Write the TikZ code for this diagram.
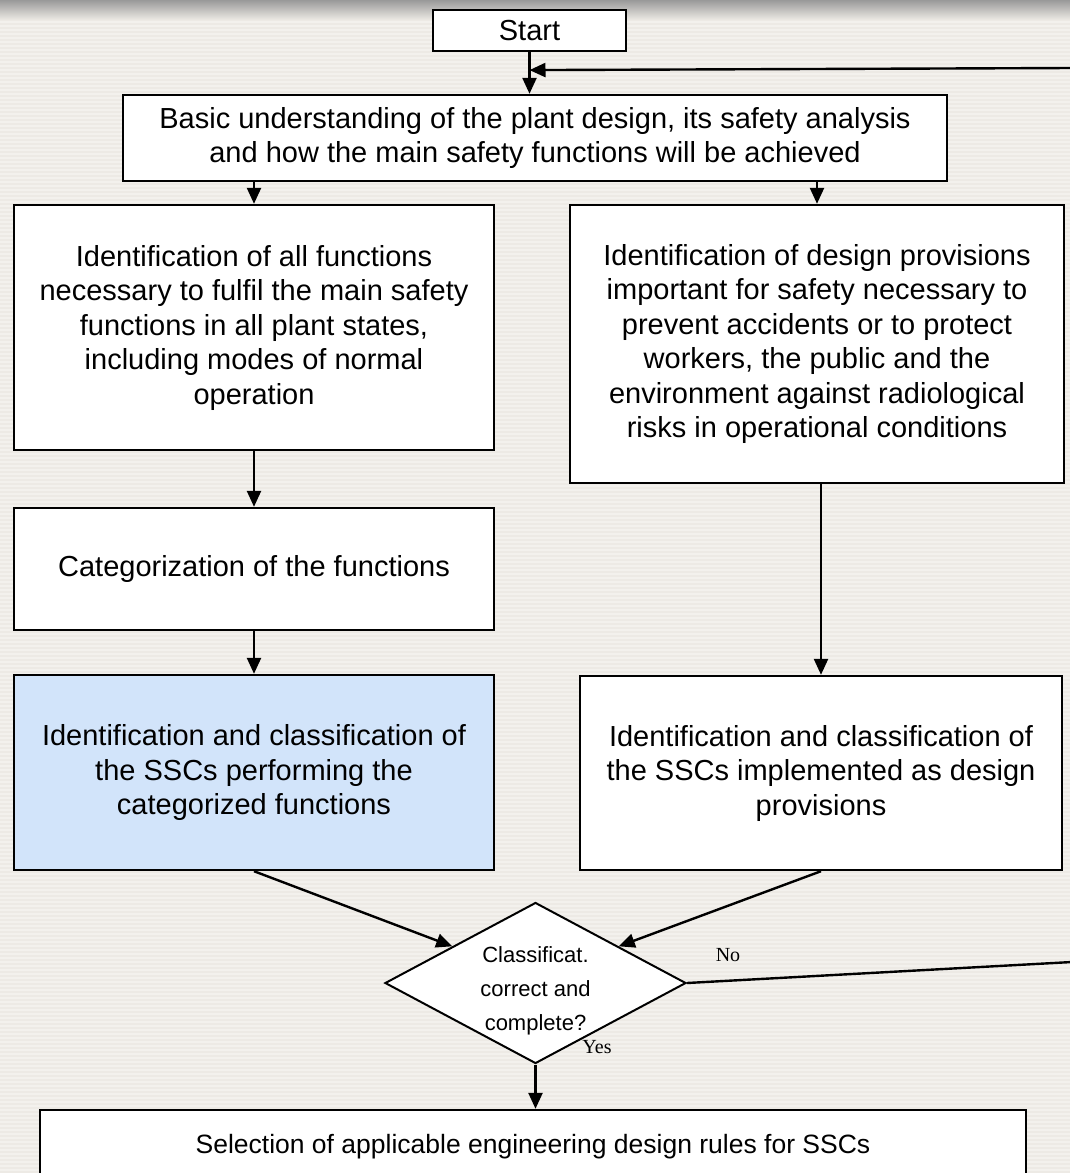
\documentclass[tikz,border=0pt]{standalone}
\usepackage{fontspec}
\setmainfont{Liberation Sans}
\newfontfamily\notefont{Liberation Serif}
\usetikzlibrary{shapes.geometric,arrows.meta,calc}
\definecolor{paper}{HTML}{EDEAE5}
\definecolor{paperline}{HTML}{F3F1ED}
\definecolor{paleblue}{HTML}{D2E4FA}

\begin{document}
\begin{tikzpicture}[x=1pt,y=-1pt,
  box/.style={draw=black, line width=2.4pt, fill=white, align=center, inner sep=0pt,
              font=\fontsize{29}{34.5}\selectfont},
  flow/.style={line width=2.4pt, -{Triangle[length=16pt,width=14pt]}},
  plain/.style={line width=2.4pt},
  decision/.style={diamond, draw=black, line width=2pt, fill=white, inner sep=0pt},
  qtext/.style={align=center, font=\fontsize{22}{34}\selectfont},
  note/.style={font=\notefont\fontsize{20}{22}\selectfont}]

% page and striped paper background
\useasboundingbox (0,0) rectangle (1070,1173);
\clip (0,0) rectangle (1070,1173);
\fill[paper] (0,0) rectangle (1070,1173);
\foreach \y in {2,6,...,1173} \draw[paperline, line width=1.6pt] (0,\y) -- (1070,\y);
\shade[top color=black!40, bottom color=paper] (0,0) rectangle (1070,20);

% process boxes
\node[box, minimum width=193, minimum height=41] (start) at (529.5,30.5) {Start};
\node[box, minimum width=824, minimum height=86] (basic) at (535,138)
  {Basic understanding of the plant design, its safety analysis\\and how the main safety functions will be achieved};
\node[box, minimum width=480, minimum height=245] (ident) at (254,327.5)
  {Identification of all functions\\necessary to fulfil the main safety\\functions in all plant states,\\including modes of normal\\operation};
\node[box, minimum width=494, minimum height=278] (prov) at (817,344)
  {Identification of design provisions\\important for safety necessary to\\prevent accidents or to protect\\workers, the public and the\\environment against radiological\\risks in operational conditions};
\node[box, minimum width=480, minimum height=122] (cat) at (254,569)
  {Categorization of the functions};
\node[box, fill=paleblue, minimum width=480, minimum height=195] (classf) at (254,772.5)
  {Identification and classification of\\the SSCs performing the\\categorized functions};
\node[box, minimum width=482, minimum height=194] (classp) at (821,773)
  {Identification and classification of\\the SSCs implemented as design\\provisions};
\node[decision, minimum width=301, minimum height=161] (check) at (535.5,983) {};
\node[qtext] (checktext) at (535.5,991) {Classificat.\\correct and\\complete?};
\node[box, minimum width=986, minimum height=90, font=\fontsize{26.5}{30}\selectfont] (rules) at (533,1155)
  {\raisebox{22pt}{Selection of applicable engineering design rules for SSCs}};

% connectors
\coordinate (merge) at ($(start.south)!0.43!(start.south |- basic.north)$);
\coordinate (rtop) at (1072,68);
\coordinate (rlow) at (1072,962);

\draw[flow] (start.south) -- (start.south |- basic.north);
\draw[flow] (rtop) -- (merge);
\draw[flow] (ident.north |- basic.south) -- (ident.north);
\draw[flow] (prov.north |- basic.south) -- (prov.north);
\draw[flow] (ident.south) -- (cat.north);
\draw[flow] (cat.south) -- (classf.north);
\draw[flow] (prov.south -| classp.north) -- (classp.north);
\draw[flow] (classf.south) -- ($(check.west)!0.45!(check.north)$);
\draw[flow] (classp.south) -- ($(check.east)!0.45!(check.north)$);
\draw[plain] (check.east) -- (rlow);
\draw[flow] (check.south) -- (check.south |- rules.north);

% branch labels
\node[note] (no) at (728,955) {No};
\node[note] (yes) at (597,1047) {Yes};
\end{tikzpicture}
\end{document}
